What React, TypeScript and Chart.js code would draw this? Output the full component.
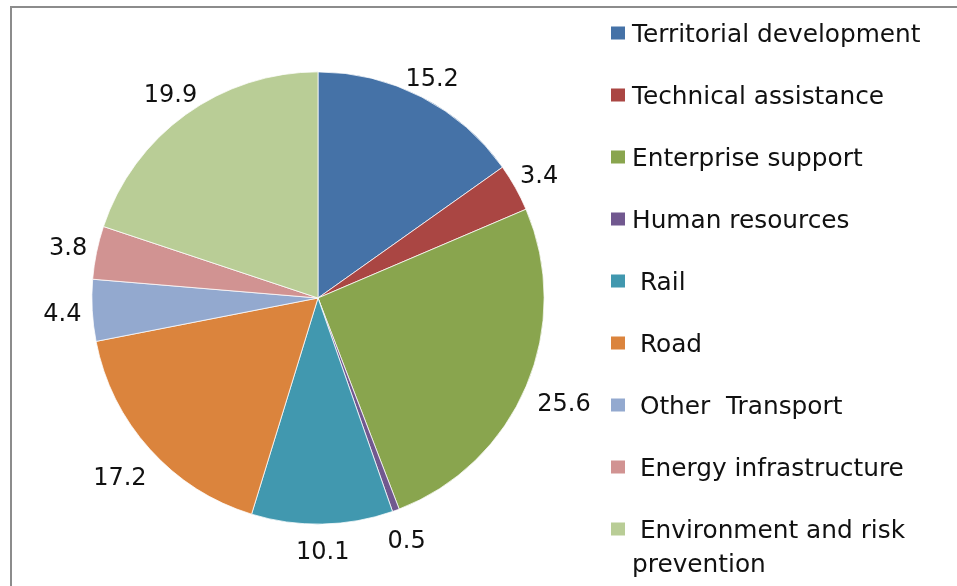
import React, { useEffect, useRef } from "react";
import { Chart, registerables } from "chart.js";

Chart.register(...registerables);

const categories = [
  "Territorial development",
  "Technical assistance",
  "Enterprise support",
  "Human resources",
  " Rail",
  " Road",
  " Other  Transport",
  " Energy infrastructure",
  " Environment and risk prevention",
];
const values = [15.2, 3.4, 25.6, 0.5, 10.1, 17.2, 4.4, 3.8, 19.9];
const colors = [
  "#4572A7",
  "#AA4643",
  "#89A54E",
  "#71588F",
  "#4198AF",
  "#DB843D",
  "#93A9CF",
  "#D19392",
  "#B9CD96",
];

const W = 957;
const H = 586;
const FONT = '"DejaVu Sans", "Liberation Sans", sans-serif';
const TEXT_COLOR = "#111111";

const framePlugin = {
  id: "frame",
  beforeDraw(chart: any) {
    const ctx = chart.ctx;
    ctx.save();
    ctx.fillStyle = "#ffffff";
    ctx.fillRect(0, 0, chart.width, chart.height);
    ctx.strokeStyle = "#8c8c8c";
    ctx.lineWidth = 2;
    ctx.beginPath();
    ctx.moveTo(11, chart.height + 2);
    ctx.lineTo(11, 7);
    ctx.lineTo(chart.width + 2, 7);
    ctx.stroke();
    ctx.restore();
  },
};

const valueLabelPlugin = {
  id: "valueLabels",
  afterDatasetsDraw(chart: any) {
    const ctx = chart.ctx;
    const meta = chart.getDatasetMeta(0);
    const size = 24;
    const capH = size * 0.729;
    ctx.save();
    ctx.font = `${size}px ${FONT}`;
    ctx.fillStyle = TEXT_COLOR;
    ctx.textAlign = "center";
    ctx.textBaseline = "alphabetic";
    meta.data.forEach((arc: any, i: number) => {
      const p = arc.getProps(["x", "y", "startAngle", "endAngle", "outerRadius"], true);
      const mid = (p.startAngle + p.endAngle) / 2;
      const ux = Math.cos(mid);
      const uy = Math.sin(mid);
      const theta = mid + Math.PI / 2;
      const gap = 10 - 7.5 * Math.cos(theta);
      const target = p.outerRadius + gap;
      const text = values[i].toFixed(1);
      const hw = ctx.measureText(text).width / 2;
      const hh = capH / 2;
      const nearest = (D: number) => {
        const cx = D * ux;
        const cy = D * uy;
        const dx = Math.max(Math.abs(cx) - hw, 0);
        const dy = Math.max(Math.abs(cy) - hh, 0);
        return Math.hypot(dx, dy);
      };
      let lo = 0;
      let hi = p.outerRadius + 300;
      for (let k = 0; k < 60; k++) {
        const m = (lo + hi) / 2;
        if (nearest(m) < target) lo = m;
        else hi = m;
      }
      const D = (lo + hi) / 2;
      const cx = p.x + D * ux;
      const cy = p.y + D * uy;
      ctx.fillText(text, cx, cy + capH / 2);
    });
    ctx.restore();
  },
};

function wrapText(ctx: CanvasRenderingContext2D, text: string, maxW: number): string[] {
  const lines: string[] = [];
  let line = text;
  while (ctx.measureText(line).width > maxW) {
    let cut = -1;
    for (let j = line.length - 1; j > 0; j--) {
      if (
        line[j] === " " &&
        line.slice(0, j).trim().length > 0 &&
        ctx.measureText(line.slice(0, j)).width <= maxW
      ) {
        cut = j;
        break;
      }
    }
    if (cut < 0) break;
    lines.push(line.slice(0, cut));
    line = line.slice(cut + 1);
  }
  lines.push(line);
  return lines;
}

const legendPlugin = {
  id: "customLegend",
  afterDraw(chart: any) {
    const ctx = chart.ctx;
    const size = 24.8;
    const capH = size * 0.729;
    const boxX = 611;
    const boxSize = 13;
    const textX = 632;
    const firstY = 33;
    const step = 62;
    const lineH = 34;
    const maxW = chart.width - textX - 8;
    ctx.save();
    ctx.font = `${size}px ${FONT}`;
    ctx.textAlign = "left";
    ctx.textBaseline = "alphabetic";
    categories.forEach((label, i) => {
      const yc = firstY + step * i;
      ctx.fillStyle = colors[i];
      ctx.fillRect(boxX, yc - boxSize / 2, boxSize + 1, boxSize);
      ctx.fillStyle = TEXT_COLOR;
      const lines = wrapText(ctx, label, maxW);
      lines.forEach((ln, k) => {
        ctx.fillText(ln, textX, yc + k * lineH + capH / 2);
      });
    });
    ctx.restore();
  },
};

export default function App() {
  const canvasRef = useRef<HTMLCanvasElement | null>(null);

  useEffect(() => {
    const canvas = canvasRef.current;
    if (!canvas) return;
    const cx = 318;
    const cy = 298;
    const r = 226.5;
    const chart = new Chart(canvas, {
      type: "pie",
      data: {
        labels: categories,
        datasets: [
          {
            data: values,
            backgroundColor: colors,
            borderColor: "#ffffff",
            borderWidth: 0.75,
          },
        ],
      },
      options: {
        responsive: false,
        animation: false,
        devicePixelRatio: 1,
        layout: {
          padding: {
            left: cx - r,
            top: cy - r,
            right: W - (cx + r),
            bottom: H - (cy + r),
          },
        },
        plugins: {
          legend: { display: false },
          tooltip: { enabled: false },
        },
      },
      plugins: [framePlugin, valueLabelPlugin, legendPlugin],
    });
    return () => chart.destroy();
  }, []);

  return (
    <div style={{ position: "absolute", left: 0, top: 0, width: W, height: H, overflow: "hidden", background: "#fff" }}>
      <canvas ref={canvasRef} width={W} height={H} style={{ display: "block", width: W, height: H }} />
    </div>
  );
}
